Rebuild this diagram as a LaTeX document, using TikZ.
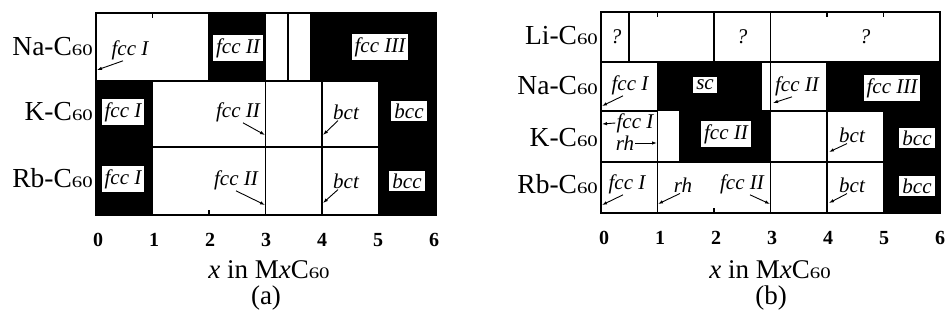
\documentclass[tikz,border=0pt]{standalone}
\usepackage{graphicx}
\usepackage{fontspec}
\setmainfont{Liberation Serif}
\usetikzlibrary{arrows.meta}
% C with the small, wide "60"
\newcommand{\Csixty}{C\scalebox{1.3}[1]{\fontsize{16}{16}\selectfont 60}}
\tikzset{
  frame/.style={line width=1.5pt},
  heavy/.style={line width=2.6pt},
  rowlab/.style={anchor=base east, inner sep=0pt, font=\fontsize{27.5}{29}\selectfont},
  phase/.style={inner sep=1pt, font=\fontsize{21}{23}\selectfont\itshape},
  phasebox/.style={phase, fill=white, inner sep=3pt},
  ticklab/.style={inner sep=0pt, font=\fontsize{20}{21}\selectfont\bfseries},
  axlab/.style={anchor=base, inner sep=0pt, font=\fontsize{27}{29}\selectfont},
  ptr/.style={-{Latex[length=5pt,width=3.5pt]}, line width=0.9pt},
}
\begin{document}
\begin{tikzpicture}[x=1pt,y=-1pt]
\useasboundingbox[fill=white] (0,0) rectangle (948,321);

% ---------------- panel (a) ----------------
\fill[black] (96,13) rectangle (436,215);
\fill[white] (96,13) rectangle (209,81);
\fill[white] (265.5,13) rectangle (310.7,81);
\fill[white] (152.5,81) rectangle (378.5,215);
\draw[frame] (96,13) rectangle (209,81);
\draw[frame] (265.5,13) rectangle (310.7,81);
\draw[frame] (288,13) -- (288,81);
\draw[frame] (152.5,81) rectangle (378.5,215);
\draw[frame] (265.5,81) -- (265.5,215);
\draw[frame] (322,81) -- (322,215);
\draw[heavy] (152.5,147) -- (378.5,147);
\draw[frame] (96,13) rectangle (436,215);
\foreach \k in {1,...,5}{
  \draw[frame] ({96+56.5*\k},13) -- ({96+56.5*\k},18);
  \draw[frame] ({96+56.5*\k},215) -- ({96+56.5*\k},210);
}

\node[rowlab] (aNa) at (93,56) {Na-\Csixty};
\node[rowlab] (aK)  at (93,121) {K-\Csixty};
\node[rowlab] (aRb) at (93,187) {Rb-\Csixty};

\node[phase] (aNaI) at (130,50) {fcc I};
\node[phasebox] (aNaII) at (238,48) {fcc II};
\node[phasebox] (aNaIII) at (380,47) {fcc III};
\node[phasebox] (aKI) at (123,112) {fcc I};
\node[phase] (aKII) at (238,112) {fcc II};
\node[phase] (aKbct) at (346,112) {bct};
\node[phasebox] (aKbcc) at (409,111) {bcc};
\node[phasebox] (aRbI) at (123,179) {fcc I};
\node[phase] (aRbII) at (236,180) {fcc II};
\node[phase] (aRbbct) at (346,181) {bct};
\node[phasebox] (aRbbcc) at (407,181) {bcc};

\coordinate (aNaIend) at (97,70);
\coordinate (aKIIend) at (265,135);
\coordinate (aKbctend) at (323,135);
\coordinate (aRbIIend) at (265,205);
\coordinate (aRbbctend) at (323,203);
\draw[ptr] ([xshift=-7pt]aNaI.south) -- (aNaIend);
\draw[ptr] ([xshift=5pt]aKII.south) -- (aKIIend);
\draw[ptr] ([xshift=-8pt]aKbct.south) -- (aKbctend);
\draw[ptr] (aRbII.south) -- (aRbIIend);
\draw[ptr] ([xshift=-8pt]aRbbct.south) -- (aRbbctend);

\foreach \k in {0,...,6}{
  \node[ticklab] (at\k) at ({98+56*\k},240) {\k};
}
\node[axlab] (axa) at (269,278) {\textit{x} in M\textit{x}\Csixty};
\node[axlab] (capa) at (266,304) {(a)};

% ---------------- panel (b) ----------------
\fill[black] (601,12) rectangle (940,213);
\fill[white] (601,12) rectangle (940,62);
\fill[white] (601,62) rectangle (657.5,111);
\fill[white] (761,62) rectangle (827,111);
\fill[white] (601,111) rectangle (680,162);
\fill[white] (770.5,111) rectangle (883.5,162);
\fill[white] (601,162) rectangle (883.5,213);
% Li row
\draw[frame] (601,62) -- (940,62);
\draw[frame] (629,12) -- (629,62);
\draw[frame] (714,12) -- (714,62);
\draw[frame] (770.5,12) -- (770.5,62);
% Na row
\draw[frame] (657.5,62) -- (657.5,111);
\draw[frame] (761,62) -- (761,111);
\draw[frame] (770.5,62) -- (770.5,111);
\draw[frame] (827,62) -- (827,111);
\draw[frame] (601,111) -- (657.5,111);
\draw[frame] (761,111) -- (883.5,111);
% K row
\draw[frame] (657.5,111) -- (657.5,162);
\draw[frame] (680,111) -- (680,162);
\draw[frame] (770.5,111) -- (770.5,213);
\draw[frame] (827,111) -- (827,213);
\draw[frame] (883.5,111) -- (883.5,213);
% Rb row
\draw[frame] (601,162) -- (883.5,162);
\draw[frame] (657.5,162) -- (657.5,213);
\draw[frame] (601,12) rectangle (940,213);
\foreach \k in {1,...,5}{
  \draw[frame] ({601+56.5*\k},12) -- ({601+56.5*\k},17);
  \draw[frame] ({601+56.5*\k},213) -- ({601+56.5*\k},208);
}

\node[rowlab] (bLi) at (598,45) {Li-\Csixty};
\node[rowlab] (bNa) at (598,95) {Na-\Csixty};
\node[rowlab] (bK)  at (598,146) {K-\Csixty};
\node[rowlab] (bRb) at (598,193) {Rb-\Csixty};

\node[phase] (bq1) at (616,37) {?};
\node[phase] (bq2) at (742,37) {?};
\node[phase] (bq3) at (865,37) {?};

\node[phase] (bNaI) at (630,85) {fcc I};
\node[phasebox] (bNasc) at (705,85) {sc};
\node[phase] (bNaII) at (797,86) {fcc II};
\node[phasebox] (bNaIII) at (892,88) {fcc III};

\node[phase] (bKI) at (635,123) {fcc I};
\node[phase] (bKrh) at (625,143) {rh};
\node[phasebox] (bKII) at (726,134) {fcc II};
\node[phase] (bKbct) at (852,135) {bct};
\node[phasebox] (bKbcc) at (917,138) {bcc};

\node[phase] (bRbI) at (627,184) {fcc I};
\node[phase] (bRbrh) at (683,185) {rh};
\node[phase] (bRbII) at (742,184) {fcc II};
\node[phase] (bRbbct) at (852,185) {bct};
\node[phasebox] (bRbbcc) at (917,186) {bcc};

\coordinate (bNaIend) at (602,106);
\coordinate (bNaIIend) at (773,103);
\coordinate (bKIend) at (602,124);
\coordinate (bKrhend) at (657,143);
\coordinate (bKbctend) at (829,152);
\coordinate (bRbIend) at (602,205);
\coordinate (bRbrhend) at (658,204);
\coordinate (bRbIIend) at (770,204);
\coordinate (bRbbctend) at (829,203);
\draw[ptr] ([xshift=-7pt]bNaI.south) -- (bNaIend);
\draw[ptr] ([xshift=-5pt]bNaII.south) -- (bNaIIend);
\draw[ptr] (bKI.west) -- (bKIend);
\draw[ptr] (bKrh.east) -- (bKrhend);
\draw[ptr] ([xshift=-5pt]bKbct.south) -- (bKbctend);
\draw[ptr] ([xshift=-4pt]bRbI.south) -- (bRbIend);
\draw[ptr] ([xshift=-3pt]bRbrh.south) -- (bRbrhend);
\draw[ptr] ([xshift=8pt]bRbII.south) -- (bRbIIend);
\draw[ptr] ([xshift=-5pt]bRbbct.south) -- (bRbbctend);

\foreach \k in {0,...,6}{
  \node[ticklab] (bt\k) at ({604+56*\k},238) {\k};
}
\node[axlab] (axb) at (770,278) {\textit{x} in M\textit{x}\Csixty};
\node[axlab] (capb) at (771,304) {(b)};
\end{tikzpicture}
\end{document}
